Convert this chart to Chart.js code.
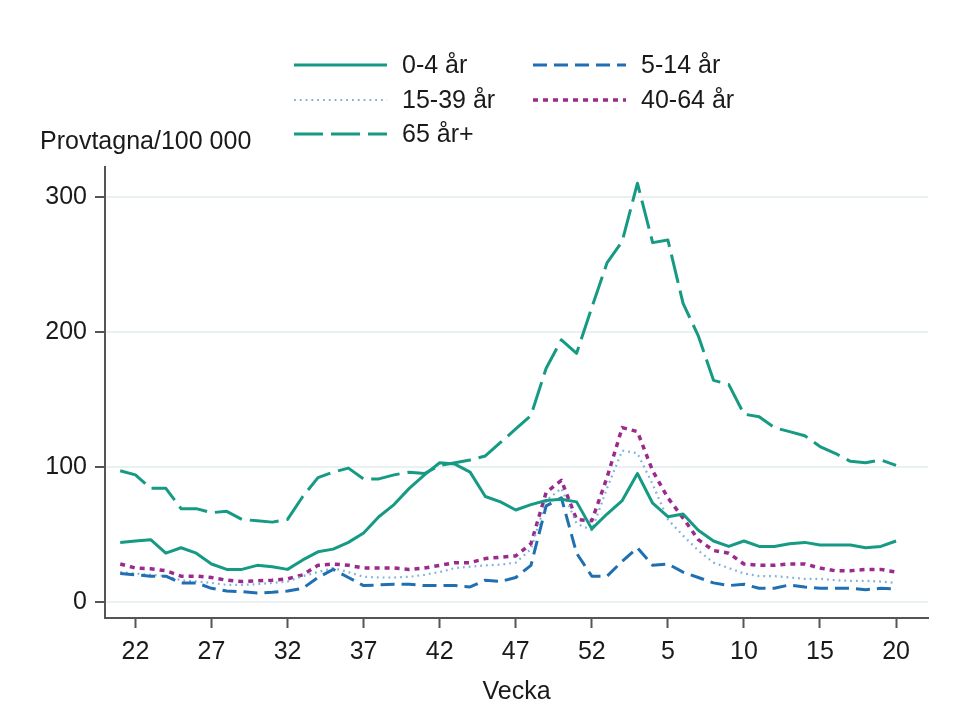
<!DOCTYPE html>
<html>
<head>
<meta charset="utf-8">
<script src="https://cdn.jsdelivr.net/npm/chart.js@4.4.0/dist/chart.umd.min.js"></script>
<style>
  html, body { margin: 0; padding: 0; background: #fff; }
  #wrap { position: relative; width: 976px; height: 715px; }
</style>
</head>
<body>
<div id="wrap"><canvas id="c" width="976" height="715"></canvas></div>
<script>
// ---- data ----
const weeks = [21,22,23,24,25,26,27,28,29,30,31,32,33,34,35,36,37,38,39,40,41,42,43,44,45,46,47,48,49,50,51,52,
               1,2,3,4,5,6,7,8,9,10,11,12,13,14,15,16,17,18,19,20];
const tickWeeks = [22,27,32,37,42,47,52,5,10,15,20];
const yTicks = [0,100,200,300];

const age0_4   = [44,45,46,36,40,36,28,24,24,27,26,24,31,37,39,44,51,63,72,84,94,103,102,96,78,74,68,72,75,76,74,54,
                  65,75,95,73,63,65,53,45,41,45,41,41,43,44,42,42,42,40,41,45];
const age5_14  = [21,20,19,19,14,14,10,8,7.5,6.5,7,8,10,18,24,18,12,12.5,13,13,12,12,12,11,16,15,18,27,71,77,36,19,
                  19,30,40,27,28,22,18,14,12,13,10,10,12.5,11,10,10,10,9,10,9.5];
const age15_39 = [22,21,20,19,16,15,14,12.5,12.5,13,14,15,19,22,25,22,18.5,18,18,18.5,20,22,25,26,27,27.5,29,39,75,84,58,53,
                  84,112,110,87,61,49,38,29,25,21,19,19,18,17,17,16,15.5,15.5,15,14];
const age40_64 = [28,25,24.5,23,19,19,18,16,15,15.5,16,17,20,27,28,27,25,25,25,24,25,27,29,29,32,33,34,43,81,90,61,60,
                  92,129,126,97,77,62,46,38,36,28,27,27,28,28,25,23,23,24,24,22];
const age65    = [97,94,84,84,69,69,66,67,61,60,59,61,78,92,96,99,91,91,94,96,95,101,103,105,108,118,128,138,173,194,184,218,
                  251,267,310,266,268,221,197,164,161,139,137,129,126,123,115,110,104,103,105,101];

const seriesLabels = ['0-4 år','5-14 år','15-39 år','40-64 år','65 år+'];

// ---- build ----
const toPts = arr => arr.map((v,i) => ({x:i, y:v}));
const teal = '#169a84', blue = '#1f6fb2', lblue = '#7fb0dc', mag = '#9a2a8d';

const datasets = [
  {label: seriesLabels[0], data: toPts(age0_4),   borderColor: teal,  borderWidth: 3,   borderDash: []},
  {label: seriesLabels[1], data: toPts(age5_14),  borderColor: blue,  borderWidth: 3,   borderDash: [14,7]},
  {label: seriesLabels[2], data: toPts(age15_39), borderColor: lblue, borderWidth: 2.2, borderDash: [1.8,4]},
  {label: seriesLabels[3], data: toPts(age40_64), borderColor: mag,   borderWidth: 3.5, borderDash: [5,5]},
  {label: seriesLabels[4], data: toPts(age65),    borderColor: teal,  borderWidth: 3,   borderDash: [29,8]}
].map(d => Object.assign(d, {pointRadius: 0, tension: 0, fill: false, borderCapStyle: 'butt', borderJoinStyle: 'round'}));

const FONT = '"Liberation Sans", Arial, sans-serif';
const FS = 25;

const legendPlugin = {
  id: 'customLegend',
  afterDraw(chart) {
    const ctx = chart.ctx;
    const colX = [294, 533];
    const rowY = [65, 100, 134];
    const len = 93;
    ctx.save();
    chart.data.datasets.forEach((ds, i) => {
      const x = colX[i % 2], y = rowY[Math.floor(i / 2)];
      ctx.beginPath();
      ctx.strokeStyle = ds.borderColor;
      ctx.lineWidth = ds.borderWidth;
      ctx.setLineDash(ds.borderDash);
      ctx.lineCap = 'butt';
      ctx.moveTo(x, y);
      ctx.lineTo(x + len, y);
      ctx.stroke();
      ctx.setLineDash([]);
      ctx.fillStyle = '#1a1a1a';
      ctx.font = FS + 'px ' + FONT;
      ctx.textBaseline = 'middle';
      ctx.textAlign = 'left';
      ctx.fillText(ds.label, x + len + 15, y + 1);
    });
    ctx.restore();
  }
};

Chart.defaults.font.family = FONT;
Chart.defaults.font.size = FS;
Chart.defaults.color = '#1a1a1a';

new Chart(document.getElementById('c'), {
  type: 'line',
  data: { datasets },
  plugins: [legendPlugin],
  options: {
    responsive: false,
    animation: false,
    layout: { padding: { left: 40, right: 48, top: 0, bottom: 0 } },
    plugins: {
      legend: { display: false },
      tooltip: { enabled: false },
      title: {
        display: true,
        text: 'Provtagna/100 000',
        align: 'start',
        color: '#1a1a1a',
        font: { size: FS, weight: 'normal' },
        padding: { top: 127, bottom: 10 }
      }
    },
    scales: {
      x: {
        type: 'linear',
        min: -1,
        max: 53.1,
        afterBuildTicks: s => { s.ticks = tickWeeks.map(w => ({ value: weeks.indexOf(w) })); },
        afterFit: s => { s.height = 97; },
        ticks: {
          autoSkip: false,
          maxRotation: 0,
          padding: 9,
          color: '#1a1a1a',
          callback: v => weeks[v]
        },
        grid: { drawOnChartArea: false, drawTicks: true, tickLength: 10, tickColor: '#555', tickWidth: 2 },
        border: { display: true, color: '#555', width: 2 },
        title: { display: true, text: 'Vecka', color: '#1a1a1a', font: { size: FS }, padding: { top: 0, bottom: 8 } }
      },
      y: {
        type: 'linear',
        min: -12,
        max: 322,
        afterBuildTicks: s => { s.ticks = yTicks.map(v => ({ value: v })); },
        afterFit: s => { s.width = 65; },
        ticks: { padding: 8, color: '#1a1a1a' },
        grid: { color: '#e9f1f2', lineWidth: 2, drawTicks: true, tickLength: 10, tickColor: '#555', tickWidth: 2 },
        border: { display: true, color: '#555', width: 2 }
      }
    }
  }
});
</script>
</body>
</html>
